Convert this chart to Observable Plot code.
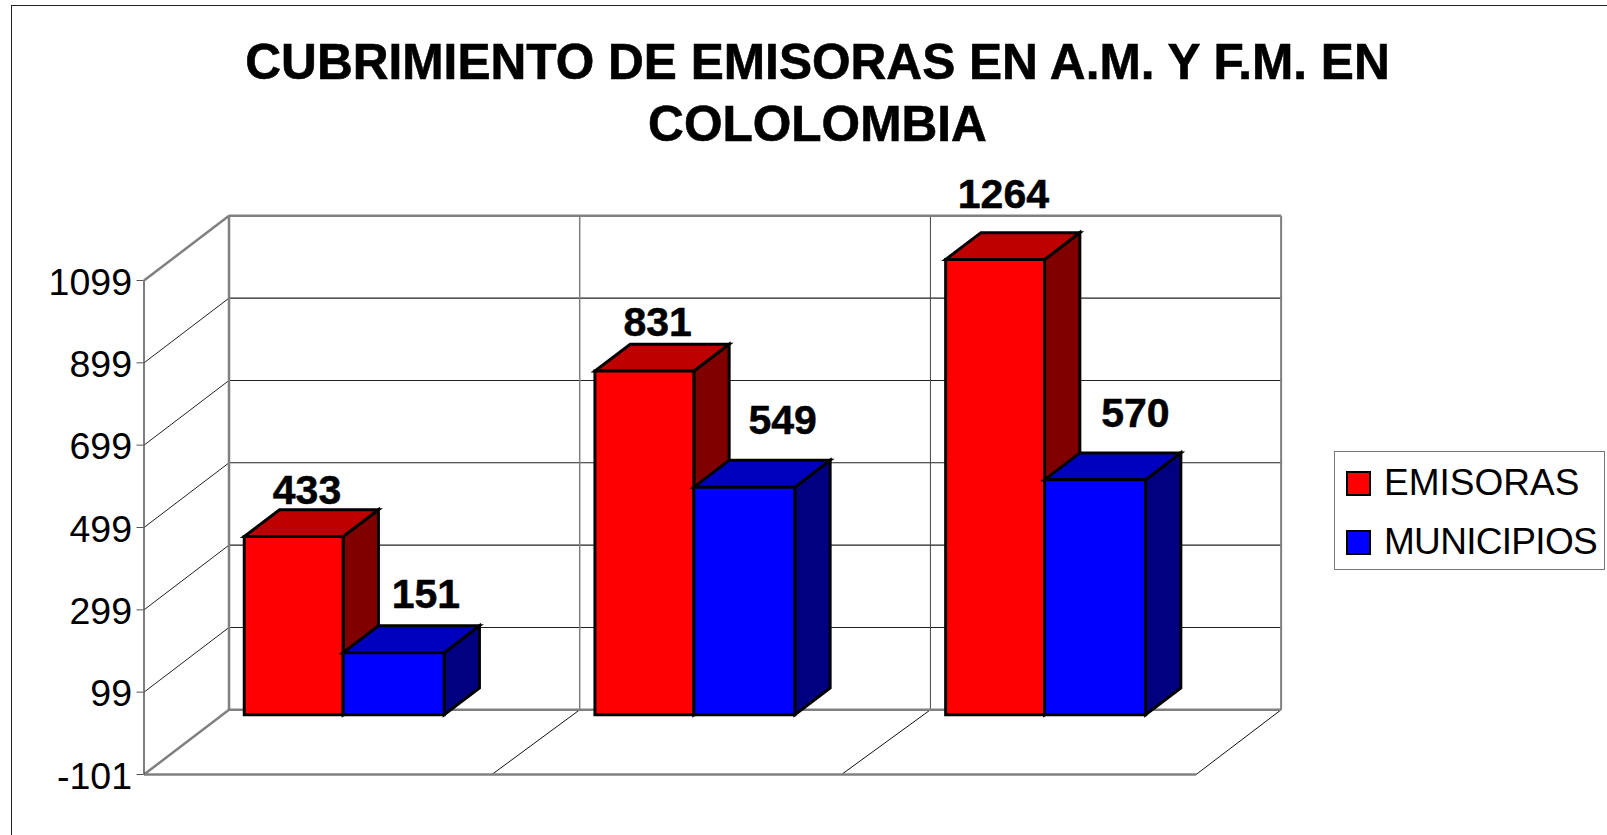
<!DOCTYPE html>
<html>
<head>
<meta charset="utf-8">
<script src="https://cdn.jsdelivr.net/npm/d3@7"></script>
<script src="https://cdn.jsdelivr.net/npm/@observablehq/plot@0.6"></script>
<style>
  html, body { margin: 0; padding: 0; background: #fff; width: 1607px; height: 835px; overflow: hidden; font-family: "Liberation Sans", Arial, sans-serif; }
  #frame { position: absolute; left: 11px; top: 5px; width: 1700px; height: 900px; border: 1.5px solid #222; box-sizing: border-box; }
  #title { position: relative; box-sizing: border-box; width: 1635px; height: 165px; padding-top: 31px; margin: 0; text-align: center; font-size: 49.6px; line-height: 62px; font-weight: bold; color: #000; -webkit-text-stroke: 0.6px #000; }
  #chart { position: absolute; left: 0; top: 165px; }
  #chart svg { overflow: visible; display: block; }
  #legend { position: absolute; left: 1334px; top: 451px; width: 271px; height: 119px; box-sizing: border-box; border: 1.5px solid #777; background: #fff; font-size: 37px; color: #000; }
  .item { position: absolute; left: 11px; display: flex; align-items: center; white-space: nowrap; }
  .sw { width: 25px; height: 25px; box-sizing: border-box; border: 2.2px solid #000; margin-right: 13px; }
</style>
</head>
<body>
<div id="frame"></div>
<h1 id="title">CUBRIMIENTO DE EMISORAS EN A.M. Y F.M. EN<br>COLOLOMBIA</h1>
<div id="chart"></div>
<div id="legend"></div>
<script>
// ---- Data ----
const groups = [0, 1, 2];
const emisorasLabels = [433, 831, 1264];
const municipiosLabels = [151, 549, 570];
// Drawn bar heights: the tallest bar is cut off by the axis, so it stays shorter than its label says.
const emisorasHeights = [433, 835, 1106];
const municipiosHeights = [151, 553, 571];
const yTicks = [-101, 99, 299, 499, 699, 899, 1099];
const seriesNames = ["EMISORAS", "MUNICIPIOS"];

// ---- Layout and style (not data) ----
const palette = [
  {front: "#ff0000", top: "#bf0000", side: "#800000"},
  {front: "#0000ff", top: "#0000bf", side: "#000080"}
];
const depthX = 0.2424;      // one full floor depth, in category units
const depthY = 157.2;       // one full floor depth, in axis units
const barStart = 0.218, barWidths = [0.282, 0.288], depthFront = 0.28, depthBack = 0.695;
const floorStops = [0.992, 1.989, 3];
const labelOffsets = [
  [[-22, -19], [-22, -21], [-27, -38]],
  [[-3, -31], [3, -39], [5, -39]]
];

const P = (c, v, d) => ({x: c + d * depthX, y: v + d * depthY});
const seg = (a, b, stroke, strokeWidth) =>
  Plot.line([a, b], {x: "x", y: "y", stroke, strokeWidth, strokeLinecap: "butt"});
const face = (pts, fill) =>
  Plot.line([...pts, pts[0], pts[1]], {x: "x", y: "y", fill, stroke: "#000", strokeWidth: 3, strokeLinejoin: "miter", strokeMiterlimit: 4});

const yMin = yTicks[0], yMax = yTicks[yTicks.length - 1];
const gray = "#808080", ink = "#222";
const marks = [];

// Back wall grid
for (const t of yTicks.slice(1, -1)) marks.push(seg(P(0, t, 1), P(3, t, 1), ink, 1.1));
// Side wall grid
for (const t of yTicks.slice(1, -1)) marks.push(seg(P(0, t, 0), P(0, t, 1), ink, 1));
// Back wall verticals
marks.push(seg(P(1, yMin, 1), P(1, yMax, 1), gray, 1.5));
marks.push(seg(P(2, yMin, 1), P(2, yMax, 1), "#444", 1));
marks.push(seg(P(3, yMin, 1), P(3, yMax, 1), gray, 2));
// Floor dividers
for (const c of floorStops) marks.push(seg(P(c, yMin, 0), P(Math.round(c), yMin, 1), "#111", 1));
// Wall frame
marks.push(seg(P(0, yMin, 1), P(0, yMax, 1), gray, 2.5));
marks.push(seg(P(0, yMax, 1), P(3, yMax, 1), gray, 2.5));
marks.push(seg(P(0, yMin, 1), P(3, yMin, 1), gray, 2.5));
marks.push(seg(P(0, yMax, 0), P(0, yMax, 1), gray, 2.5));
marks.push(seg(P(0, yMin, 0), P(0, yMin, 1), gray, 2.5));
marks.push(seg(P(0, yMin, 0), P(3, yMin, 0), gray, 2.5));
marks.push(seg(P(0, yMin, 0), P(0, yMax, 0), "#555", 1.5));

// Bars
const heights = [emisorasHeights, municipiosHeights];
const barLeft = (g, s) => g + barStart + (s === 0 ? 0 : barWidths[0]);
for (const g of groups) {
  heights.forEach((series, s) => {
    const v = series[g];
    const x0 = barLeft(g, s), x1 = x0 + barWidths[s];
    const c = palette[s];
    marks.push(face([P(x1, 0, depthFront), P(x1, v, depthFront), P(x1, v, depthBack), P(x1, 0, depthBack)], c.side));
    marks.push(face([P(x0, v, depthFront), P(x1, v, depthFront), P(x1, v, depthBack), P(x0, v, depthBack)], c.top));
    marks.push(face([P(x0, 0, depthFront), P(x1, 0, depthFront), P(x1, v, depthFront), P(x0, v, depthFront)], c.front));
  });
}

// Value labels
[emisorasLabels, municipiosLabels].forEach((labels, s) => {
  for (const g of groups) {
    const p = P(barLeft(g, s) + barWidths[s] / 2, heights[s][g], depthBack);
    marks.push(Plot.text([p], {
      x: "x", y: "y", text: () => String(labels[g]),
      dx: labelOffsets[s][g][0], dy: labelOffsets[s][g][1],
      fontSize: 41, fontWeight: "bold", fill: "#000", stroke: "#000", strokeWidth: 0.5, lineAnchor: "middle"
    }));
  }
});

// Value axis: ticks from the library's axis, numbers set just below tick centre
marks.push(Plot.axisY(yTicks, {
  anchor: "left", label: null, tickSize: 7, stroke: "#555", tickFormat: () => ""
}));
marks.push(Plot.text(yTicks, {
  x: () => 0, y: d => d, text: d => String(d), textAnchor: "end",
  dx: -12, dy: 2, fontSize: 37.5, fill: "#000", lineAnchor: "middle"
}));

const plot = Plot.plot({
  width: 1607, height: 670,
  marginLeft: 143.5, marginRight: 411.4, marginTop: 115, marginBottom: 61,
  x: {domain: [0, 3], range: [143.5, 1195.6], axis: null},
  y: {domain: [yMin, yMax], range: [609, 115]},
  style: {fontFamily: '"Liberation Sans", Arial, sans-serif', background: "transparent", overflow: "visible"},
  marks
});
document.getElementById("chart").appendChild(plot);

// Legend
const legend = document.getElementById("legend");
seriesNames.forEach((name, i) => {
  const item = document.createElement("div");
  item.className = "item";
  item.style.top = (i === 0 ? 10 : 69) + "px";
  const sw = document.createElement("span");
  sw.className = "sw";
  sw.style.background = palette[i].front;
  const label = document.createElement("span");
  label.textContent = name;
  label.style.letterSpacing = i === 0 ? "0" : "-0.7px";
  item.append(sw, label);
  legend.appendChild(item);
});
</script>
</body>
</html>
